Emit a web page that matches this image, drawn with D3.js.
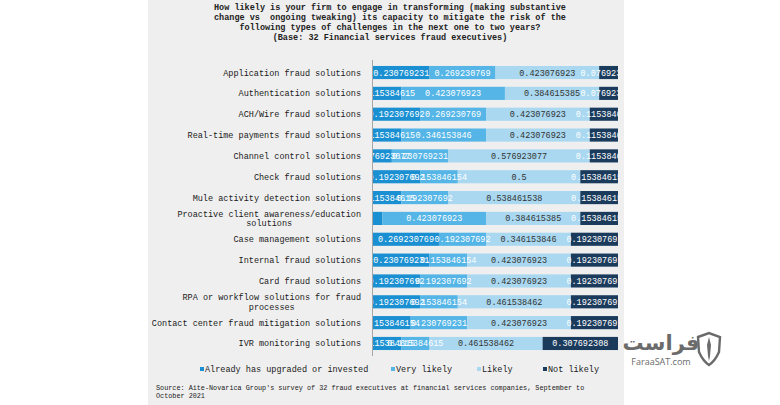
<!DOCTYPE html>
<html><head><meta charset="utf-8">
<script src="https://cdn.jsdelivr.net/npm/d3@7"></script>
<style>body{margin:0;background:#fff}svg{display:block}</style>
</head><body>
<svg id="c" width="780" height="405"></svg>
<script>
const categories = [
  "Application fraud solutions",
  "Authentication solutions",
  "ACH/Wire fraud solutions",
  "Real-time payments fraud solutions",
  "Channel control solutions",
  "Check fraud solutions",
  "Mule activity detection solutions",
  "Proactive client awareness/education|solutions",
  "Case management solutions",
  "Internal fraud solutions",
  "Card fraud solutions",
  "RPA or workflow solutions for fraud|processes",
  "Contact center fraud mitigation solutions",
  "IVR monitoring solutions"
];
const seriesNames = ["Already has upgraded or invested","Very likely","Likely","Not likely"];
const alreadyInvested = [0.230769231,0.115384615,0.192307692,0.115384615,0.076923077,0.192307692,0.115384615,0.038461538,0.269230769,0.230769231,0.192307692,0.192307692,0.153846154,0.115384615];
const veryLikely      = [0.269230769,0.423076923,0.269230769,0.346153846,0.230769231,0.153846154,0.192307692,0.423076923,0.192307692,0.153846154,0.192307692,0.153846154,0.230769231,0.115384615];
const likely          = [0.423076923,0.384615385,0.423076923,0.423076923,0.576923077,0.5,0.538461538,0.384615385,0.346153846,0.423076923,0.423076923,0.461538462,0.423076923,0.461538462];
const notLikely       = [0.076923077,0.076923077,0.115384615,0.115384615,0.115384615,0.153846154,0.153846154,0.153846154,0.192307692,0.192307692,0.192307692,0.192307692,0.192307692,0.307692308];
const titleLines = [
  "How likely is your firm to engage in transforming (making substantive",
  "change vs  ongoing tweaking) its capacity to mitigate the risk of the",
  "following types of challenges in the next one to two years?",
  "(Base: 32 Financial services fraud executives)"
];
const sourceLines = [
  "Source: Aite-Novarica Group's survey of 32 fraud executives at financial services companies, September to",
  "October 2021"
];

const colors = ["#1a8fd2","#54b5e6","#a9d8f0","#1b3b5c"];
const labelColors = ["#ffffff","#ffffff","#333333","#ffffff"];
const series = [alreadyInvested, veryLikely, likely, notLikely];
const FONT = "'Liberation Mono','Courier New',monospace";

const svg = d3.select("#c");
svg.append("rect").attr("x",148).attr("y",0).attr("width",476).attr("height",405).attr("fill","#efefef");

// title
svg.append("g").selectAll("text").data(titleLines).join("text")
  .attr("x",390).attr("y",(d,i)=>10+i*10)
  .attr("text-anchor","middle").attr("font-family",FONT).attr("font-size","8.5px")
  .attr("font-weight","bold").attr("fill","#222").attr("xml:space","preserve").text(d=>d);

const x = d3.scaleLinear().domain([0,1]).range([373,618]);
const y = d3.scaleBand().domain(d3.range(categories.length)).range([62,354]).paddingInner(0.37).paddingOuter(0.19);

svg.append("defs").append("clipPath").attr("id","plotclip")
  .append("rect").attr("x",x(0)).attr("y",55).attr("width",x(1)-x(0)).attr("height",305);

const rows = categories.map((c,i)=>{
  let acc=0;
  return series.map((s,k)=>{const v=s[i]; const seg={k,i,x0:acc,x1:acc+v,v}; acc+=v; return seg;});
});

const g = svg.append("g");
rows.forEach(segs=>{
  g.selectAll(null).data(segs).join("rect")
    .attr("x",d=>x(d.x0)).attr("width",d=>x(d.x1)-x(d.x0))
    .attr("y",d=>y(d.i)).attr("height",y.bandwidth())
    .attr("fill",d=>colors[d.k]);
});
const lbl = svg.append("g").attr("clip-path","url(#plotclip)");
rows.forEach(segs=>{
  lbl.selectAll(null).data(segs.filter(d=>d.v>0.05)).join("text")
    .attr("x",d=>(x(d.x0)+x(d.x1))/2).attr("y",d=>y(d.i)+y.bandwidth()/2)
    .attr("dy","0.35em").attr("text-anchor","middle")
    .attr("font-family",FONT).attr("font-size","8.5px").attr("fill",d=>labelColors[d.k])
    .text(d=>String(+d.v.toFixed(9)));
});

// axis line
svg.append("line").attr("x1",372.5).attr("x2",372.5).attr("y1",60).attr("y2",356).attr("stroke","#a6a6a6").attr("stroke-width",1);

// category labels
categories.forEach((c,i)=>{
  const lines=c.split("|");
  const cy=y(i)+y.bandwidth()/2;
  const t=svg.append("text").attr("font-family",FONT).attr("font-size","8.5px").attr("fill","#1a1a1a");
  if(lines.length===1){
    t.attr("x",361).attr("y",cy).attr("dy","0.35em").attr("text-anchor","end").text(c);
  } else {
    const w = lines[0].length*5.1;
    const cx = 361 - w/2;
    lines.forEach((l,j)=>{
      t.append("tspan").attr("x",cx).attr("y",cy+(j-0.5)*9.5).attr("dy","0.35em").attr("text-anchor","middle").text(l);
    });
  }
});

// legend
const legX=[200,391,477,543];
const lg=svg.append("g");
seriesNames.forEach((n,k)=>{
  lg.append("rect").attr("x",legX[k]).attr("y",367).attr("width",4).attr("height",4).attr("fill",colors[k]);
  lg.append("text").attr("x",legX[k]+5).attr("y",369).attr("dy","0.35em")
    .attr("font-family",FONT).attr("font-size","8.5px").attr("fill","#1a1a1a").text(n);
});

// source
svg.append("g").selectAll("text").data(sourceLines).join("text")
  .attr("x",156).attr("y",(d,i)=>390+i*8)
  .attr("font-family",FONT).attr("font-size","6.8px").attr("fill","#1a1a1a").text(d=>d);

// watermark
const wm=svg.append("g").attr("fill","#6b6b6b");
wm.append("text").attr("x",661).attr("y",350).attr("text-anchor","middle")
  .attr("font-family","'DejaVu Sans','Noto Sans',sans-serif").attr("font-size","21px").attr("font-weight","bold").text("فراست");
wm.append("text").attr("x",661).attr("y",365).attr("text-anchor","middle")
  .attr("font-family","'Open Sans','Noto Sans',sans-serif").attr("font-size","9px").text("FaraaSAT.com");
wm.append("path").attr("d","M698,337 L709,333 L720,337 L719,352 Q715,361 709,365 Q703,361 699,352 Z")
  .attr("fill","none").attr("stroke","#6b6b6b").attr("stroke-width",2.4);
wm.append("path").attr("d","M709,337 L711,345 L710,356 L709,361 L708,356 L707,345 Z");
</script>
</body></html>
